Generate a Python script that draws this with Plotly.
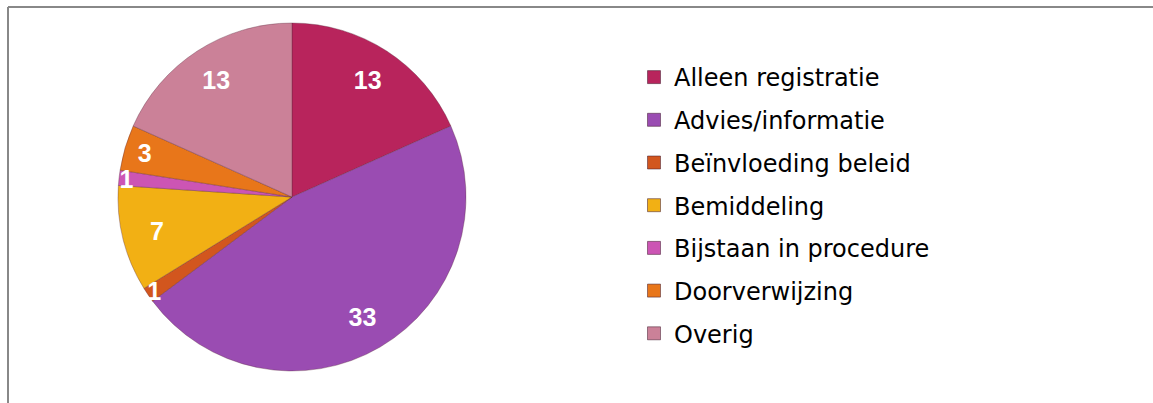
import plotly.graph_objects as go

categories = ["Alleen registratie", "Advies/informatie", "Beïnvloeding beleid",
              "Bemiddeling", "Bijstaan in procedure", "Doorverwijzing", "Overig"]
values = [13, 33, 1, 7, 1, 3, 13]
colors = ["#B8245C", "#9A4CB2", "#D2561E", "#F2B014", "#CC55B4", "#E8761A", "#CB8198"]

W, H = 1153, 403
dom = dict(x=[118 / W, 466 / W], y=[(H - 371) / H, (H - 23) / H])
fig = go.Figure()
fig.add_trace(go.Pie(
    labels=categories, values=values, sort=False, direction="clockwise", rotation=0,
    marker=dict(colors=colors, line=dict(color="rgba(90,40,60,0.35)", width=1)),
    textinfo="none", domain=dom, showlegend=False, hoverinfo="label+value",
))
# label layer: transparent ring so value labels sit toward the outer edge
fig.add_trace(go.Pie(
    labels=categories, values=values, sort=False, direction="clockwise", rotation=0,
    hole=0.6,
    marker=dict(colors=["rgba(0,0,0,0)"] * len(values), line=dict(width=0)),
    textinfo="value", textposition="inside", insidetextorientation="horizontal",
    textfont=dict(family="Liberation Sans", size=25, color="white", weight="bold"),
    domain=dom, showlegend=False, hoverinfo="skip",
))
for c, col in zip(categories, colors):
    fig.add_trace(go.Scatter(
        x=[None], y=[None], mode="markers", name=c, legendgroup=c,
        marker=dict(symbol="square", size=13, color=col, line=dict(color="rgba(60,20,40,0.5)", width=1)),
    ))

fig.update_layout(
    width=W, height=H, margin=dict(l=0, r=0, t=0, b=0),
    paper_bgcolor="white", plot_bgcolor="white",
    xaxis=dict(visible=False), yaxis=dict(visible=False),
    uniformtext=dict(minsize=25, mode="show"),
    legend=dict(x=634 / W, xanchor="left", y=1 - 55 / H, yanchor="top",
                font=dict(family="DejaVu Sans", size=24, color="black"),
                tracegroupgap=8.5, itemwidth=30, bgcolor="rgba(0,0,0,0)"),
    shapes=[
        dict(type="line", xref="paper", yref="paper", x0=8 / W, x1=1, y0=1 - 7 / H, y1=1 - 7 / H,
             line=dict(color="#888888", width=2)),
        dict(type="line", xref="paper", yref="paper", x0=8 / W, x1=8 / W, y0=0, y1=1 - 7 / H,
             line=dict(color="#888888", width=2)),
    ],
)
fig.write_html("out.html", config={"displayModeBar": False},
               post_script="document.body.style.margin='0';document.body.style.overflow='hidden';")
